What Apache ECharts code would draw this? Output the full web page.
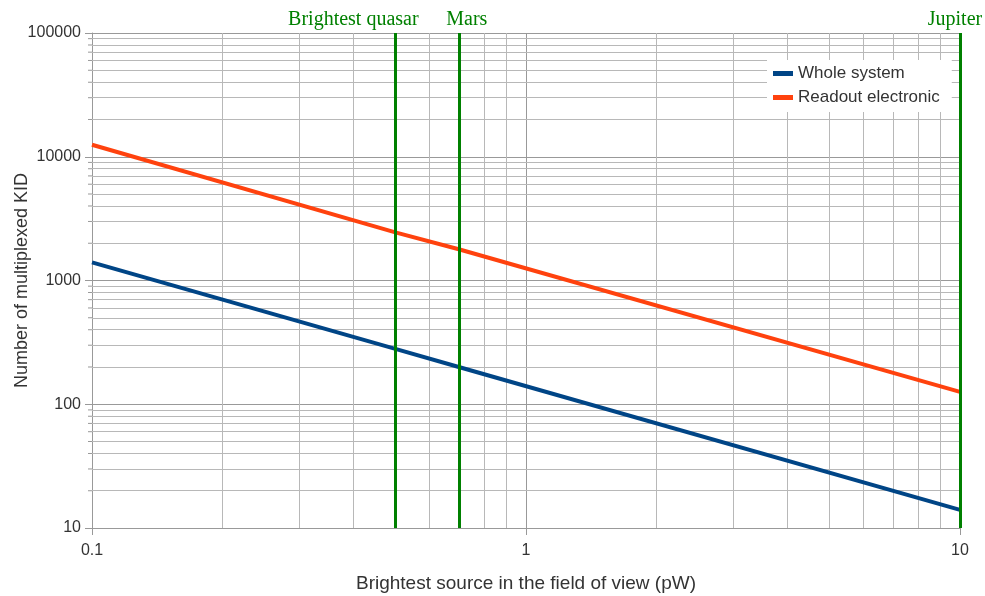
<!DOCTYPE html>
<html><head><meta charset="utf-8">
<script src="https://cdn.jsdelivr.net/npm/echarts@6/dist/echarts.min.js"></script>
<style>html,body{margin:0;padding:0;background:#fff}#c{width:985px;height:596px}</style>
</head><body><div id="c"></div>
<script>
// ---- data ----
const xValues = [0.1, 0.5, 0.7, 10];
const wholeSystem = [1400, 280, 200, 14];
const readoutElectronic = [12500, 2450, 1790, 126];
const seriesNames = ['Whole system', 'Readout electronic'];
const markerX = [0.5, 0.7, 10];
const markerNames = ['Brightest quasar', 'Mars', 'Jupiter'];
const markerLabelOffsetX = [-42, 8, -5];
const xTicks = [0.1, 1, 10];
const yTicks = [10, 100, 1000, 10000, 100000];

const SANS = '"Liberation Sans", Arial, sans-serif';
const SERIF = '"Liberation Serif", "Times New Roman", serif';
function minorValues(ticks) {
  const out = [];
  for (let i = 0; i < ticks.length - 1; i++) {
    for (let k = 2; k <= 9; k++) out.push(+(k * ticks[i]).toPrecision(6));
  }
  return out;
}
const fmt = v => String(+(+v).toPrecision(6));
const xMinor = minorValues(xTicks);
const yMinor = minorValues(yTicks);

const chart = echarts.init(document.getElementById('c'), null, {renderer: 'canvas'});
const axisCommon = {
  type: 'log', logBase: 10,
  nameLocation: 'middle', nameMoveOverlap: false,
  axisLine: {show: true, lineStyle: {color: '#999', width: 1}},
  axisTick: {show: true, length: 7, lineStyle: {color: '#999'}},
  splitLine: {show: true, lineStyle: {color: '#999', width: 1}},
  minorTick: {show: false}, minorSplitLine: {show: false}
};
chart.setOption({
  animation: false,
  grid: {left: 92, right: 25, top: 33, bottom: 68, containLabel: false, outerBoundsMode: 'none'},
  legend: {
    data: seriesNames, orient: 'vertical', left: 767, top: 60, z: 20,
    backgroundColor: '#fff', padding: [5, 12, 6, 6],
    itemWidth: 20, itemHeight: 5, icon: 'rect', itemGap: 7,
    textStyle: {fontFamily: SANS, fontSize: 17, color: '#333'}
  },
  xAxis: Object.assign({}, axisCommon, {
    min: xTicks[0], max: xTicks[xTicks.length - 1],
    name: 'Brightest source in the field of view (pW)', nameGap: 46,
    nameTextStyle: {fontFamily: SANS, fontSize: 19, color: '#333'},
    axisLabel: {fontFamily: SANS, fontSize: 16, color: '#333', margin: 15, formatter: fmt}
  }),
  yAxis: Object.assign({}, axisCommon, {
    min: yTicks[0], max: yTicks[yTicks.length - 1],
    name: 'Number of multiplexed KID', nameGap: 61,
    nameTextStyle: {fontFamily: SANS, fontSize: 18, color: '#333'},
    axisLabel: {fontFamily: SANS, fontSize: 16, color: '#333', margin: 11, formatter: fmt}
  }),
  series: [
    {
      type: 'line', name: '_grid', data: [], silent: true, z: 1,
      markLine: {
        silent: true, symbol: ['none', 'none'], animation: false, z: 1,
        label: {show: false},
        lineStyle: {color: '#b8b8b8', width: 1, type: 'solid'},
        emphasis: {disabled: true},
        data: xMinor.map(v => ({xAxis: v})).concat(yMinor.map(v => ({yAxis: v})))
      }
    },
    {
      type: 'custom', name: '_minorTicks', silent: true, z: 2, clip: false,
      data: yMinor.map(v => [xTicks[0], v]),
      renderItem: function (params, api) {
        const p = api.coord([api.value(0), api.value(1)]);
        return {type: 'line', shape: {x1: p[0] - 4, y1: p[1], x2: p[0], y2: p[1]},
          style: {stroke: '#999', lineWidth: 1}};
      }
    },
    {
      name: seriesNames[0], type: 'line', z: 3, showSymbol: false, symbol: 'none',
      data: xValues.map((x, i) => [x, wholeSystem[i]]),
      lineStyle: {color: '#004586', width: 4}, itemStyle: {color: '#004586'}
    },
    {
      name: seriesNames[1], type: 'line', z: 3, showSymbol: false, symbol: 'none',
      data: xValues.map((x, i) => [x, readoutElectronic[i]]),
      lineStyle: {color: '#ff420e', width: 4}, itemStyle: {color: '#ff420e'}
    },
    {
      type: 'line', name: '_markers', data: [], silent: true, z: 5,
      markLine: {
        silent: true, symbol: ['none', 'none'], animation: false, z: 5,
        lineStyle: {color: '#008000', width: 3, type: 'solid'},
        emphasis: {disabled: true},
        label: {show: true, position: 'end', distance: 3, formatter: '{b}',
          fontFamily: SERIF, fontSize: 20, color: '#008000'},
        data: markerX.map((v, i) => ({
          xAxis: v, name: markerNames[i],
          label: {offset: [markerLabelOffsetX[i], 0]}
        }))
      }
    }
  ]
});
</script></body></html>
